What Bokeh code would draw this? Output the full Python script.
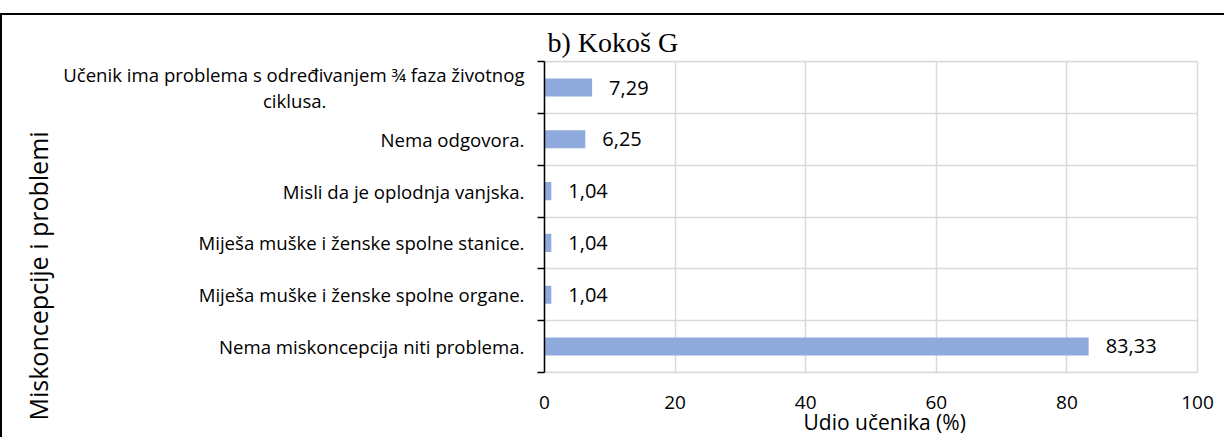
from bokeh.plotting import figure
from bokeh.models import Range1d, FixedTicker, Title
from bokeh.core.properties import value
from bokeh.embed import file_html
from bokeh.resources import INLINE

# ---- data ----
categories = [
    "Učenik ima problema s određivanjem ¾ faza životnog ciklusa.",
    "Nema odgovora.",
    "Misli da je oplodnja vanjska.",
    "Miješa muške i ženske spolne stanice.",
    "Miješa muške i ženske spolne organe.",
    "Nema miskoncepcija niti problema.",
]
NB = "\u00a0"
tick_labels = [
    "Učenik ima problema s određivanjem ¾ faza životnog\nciklusa." + NB * 41,
    "Nema odgovora.",
    "Misli da je oplodnja vanjska.",
    "Miješa muške i ženske spolne stanice.",
    "Miješa muške i ženske spolne organe.",
    "Nema miskoncepcija niti problema.",
]
values = [7.29, 6.25, 1.04, 1.04, 1.04, 83.33]
x_ticks = [0, 20, 40, 60, 80, 100]
title_text = "b) Kokoš G"
x_title = "Udio učenika (%)"
y_title = "Miskoncepcije i problemi"

FONT = "Open Sans"
n = len(categories)
ys = [n - i - 0.5 for i in range(n)]
value_text = [f"{v:.2f}".replace(".", ",") for v in values]

# canvas origin on the page (after CSS border/margin)
OX, OY = 2, 15
W, H = 1226 - OX, 439 - OY
FL, FR, FT, FB = 544, 1197, 61, 372   # frame edges on the page

p = figure(width=W, height=H,
           x_range=Range1d(0, 100), y_range=Range1d(-0.002, n + 0.002),
           output_backend="svg", toolbar_location=None,
           min_border_left=FL - OX, min_border_right=W - (FR - OX),
           min_border_top=FT - OY, min_border_bottom=H - (FB - OY))
p.styles = {"margin-top": "13px", "border-top": "2px solid black",
            "border-left": "2px solid black"}
p.outline_line_color = "#d9d9d9"
p.outline_line_width = 1.5
p.background_fill_color = "white"
p.border_fill_color = "white"

p.hbar(y=ys, right=values, left=0, height=0.35,
       fill_color="#8faadc", line_color=None)
p.text(x=values, y=ys, text=value_text, x_offset=17,
       text_align="left", text_baseline="middle",
       text_font=value(FONT), text_font_size="20px", text_color="black")

# y axis: labels at centres, ticks at boundaries
yt = FixedTicker(ticks=ys, minor_ticks=list(range(n + 1)))
p.yaxis.ticker = yt
p.ygrid.ticker = yt
p.yaxis.major_label_overrides = {y: t for y, t in zip(ys, tick_labels)}
p.yaxis.major_tick_line_color = None
p.yaxis.major_tick_out = 0
p.yaxis.major_tick_in = 0
p.yaxis.minor_tick_in = 0
p.yaxis.minor_tick_out = 7
p.yaxis.minor_tick_line_color = "black"
p.yaxis.minor_tick_line_width = 1.5
p.yaxis.axis_line_color = "black"
p.yaxis.axis_line_width = 1.5
p.yaxis.major_label_standoff = 13
p.yaxis.major_label_text_font = FONT
p.yaxis.major_label_text_font_size = "18.6px"
p.yaxis.major_label_text_color = "black"
p.yaxis.major_label_text_line_height = 1.05
p.ygrid.grid_line_color = None
p.ygrid.minor_grid_line_color = "#d9d9d9"
p.ygrid.minor_grid_line_width = 1.5

# x axis
xt = FixedTicker(ticks=x_ticks, minor_ticks=[])
p.xaxis.ticker = xt
p.xgrid.ticker = xt
p.xaxis.axis_line_color = None
p.xaxis.major_tick_line_color = None
p.xaxis.minor_tick_line_color = None
p.xaxis.major_tick_out = 0
p.xaxis.major_tick_in = 0
p.xaxis.major_label_standoff = 23
p.xaxis.major_label_text_font = FONT
p.xaxis.major_label_text_font_size = "19px"
p.xaxis.major_label_text_color = "black"
p.xgrid.grid_line_color = "#d9d9d9"
p.xgrid.grid_line_width = 1.5

# chart title
p.add_layout(Title(text=title_text, align="left", offset=3, standoff=8,
                   text_font="Liberation Serif", text_font_size="28px",
                   text_font_style="normal", text_color="black"), "above")

# axis titles
p.add_layout(Title(text=x_title, align="left", offset=259, standoff=-12,
                   text_font=FONT, text_font_size="21px",
                   text_font_style="normal", text_color="black"), "below")
p.add_layout(Title(text=y_title, align="left", offset=-48, standoff=12,
                   text_font=FONT, text_font_size="25px",
                   text_font_style="normal", text_color="black"), "left")

open("out.html", "w").write(file_html(p, INLINE))
